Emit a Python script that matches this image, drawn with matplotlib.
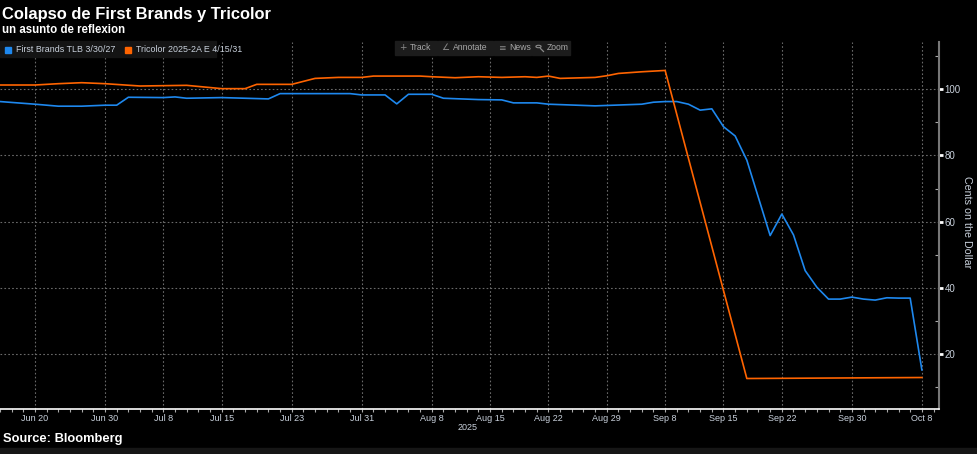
import numpy as np
import matplotlib
matplotlib.use("Agg")
import matplotlib.pyplot as plt
from matplotlib.patches import Rectangle, Circle
from matplotlib.lines import Line2D

# Bloomberg-style price chart: First Brands TLB vs Tricolor ABS

# trading-day axis (weekends + US holidays removed)
holidays = ['2025-06-19', '2025-07-04', '2025-09-01']
origin = '2025-06-20'

fb_dates = ['2025-06-16', '2025-06-20', '2025-06-24', '2025-06-26', '2025-06-30',
            '2025-07-01', '2025-07-02', '2025-07-08', '2025-07-09', '2025-07-10',
            '2025-07-15', '2025-07-17', '2025-07-21', '2025-07-22', '2025-07-30',
            '2025-07-31', '2025-08-04', '2025-08-05', '2025-08-06', '2025-08-08',
            '2025-08-11', '2025-08-14', '2025-08-18', '2025-08-19', '2025-08-21',
            '2025-08-22', '2025-08-28', '2025-09-04', '2025-09-05', '2025-09-08',
            '2025-09-09', '2025-09-10', '2025-09-11', '2025-09-12', '2025-09-15',
            '2025-09-16', '2025-09-17', '2025-09-19', '2025-09-22', '2025-09-23',
            '2025-09-24', '2025-09-25', '2025-09-26', '2025-09-29', '2025-09-30',
            '2025-10-01', '2025-10-02', '2025-10-03', '2025-10-06', '2025-10-07',
            '2025-10-08']
fb_prices = [96.3, 95.5, 94.9, 94.9, 95.2,
             95.2, 97.6, 97.5, 97.7, 97.3,
             97.5, 97.3, 97.1, 98.7, 98.7,
             98.3, 98.3, 95.6, 98.5, 98.5,
             97.3, 96.9, 96.8, 95.9, 95.9,
             95.5, 95.0, 95.5, 96.1, 96.3,
             96.3, 95.5, 93.7, 94.1, 88.7,
             85.9, 78.6, 55.8, 62.3, 56.0,
             45.2, 40.2, 36.6, 36.6, 37.2,
             36.6, 36.3, 37.0, 36.9, 36.9,
             15.2]

tc_dates = ['2025-06-16', '2025-06-20', '2025-06-24', '2025-06-26', '2025-06-30',
            '2025-07-03', '2025-07-10', '2025-07-15', '2025-07-17', '2025-07-18',
            '2025-07-23', '2025-07-25', '2025-07-29', '2025-07-31', '2025-08-01',
            '2025-08-07', '2025-08-08', '2025-08-12', '2025-08-14', '2025-08-18',
            '2025-08-20', '2025-08-21', '2025-08-22', '2025-08-25', '2025-08-28',
            '2025-08-29', '2025-09-02', '2025-09-04', '2025-09-08', '2025-09-17',
            '2025-10-08']
tc_prices = [101.3, 101.3, 101.7, 102.0, 101.7,
             101.0, 101.2, 100.2, 100.2, 101.5,
             101.5, 103.3, 103.6, 103.6, 104.0,
             104.0, 103.8, 103.5, 103.8, 103.6,
             103.8, 103.6, 104.0, 103.3, 103.6,
             104.1, 104.8, 105.3, 105.7, 12.6,
             12.9]

tick_dates = ['2025-06-20', '2025-06-30', '2025-07-08', '2025-07-15', '2025-07-23',
              '2025-07-31', '2025-08-08', '2025-08-15', '2025-08-22', '2025-08-29',
              '2025-09-08', '2025-09-15', '2025-09-22', '2025-09-30', '2025-10-08']
tick_labels = ['Jun 20', 'Jun 30', 'Jul 8', 'Jul 15', 'Jul 23', 'Jul 31', 'Aug 8',
               'Aug 15', 'Aug 22', 'Aug 29', 'Sep 8', 'Sep 15', 'Sep 22', 'Sep 30', 'Oct 8']


def bday(d):
    return np.busday_count(origin, d, holidays=holidays)


BLUE = '#1e88ee'
ORANGE = '#ff6400'
TXT = '#c9d1dc'
plt.rcParams['font.family'] = ['Liberation Sans', 'DejaVu Sans']

fig = plt.figure(figsize=(9.77, 4.54), dpi=100, facecolor='black')
ax = fig.add_axes([0.0, 0.0985, 0.961, 0.809], facecolor='black')

ax.plot(bday(fb_dates), fb_prices, color=BLUE, lw=1.2, zorder=3)
ax.plot(bday(tc_dates), tc_prices, color=ORANGE, lw=1.2, zorder=3)

ax.set_xlim(-3.0, 77.46)
ax.set_ylim(3.3, 114.3)

# axes styling
for s in ['top', 'left']:
    ax.spines[s].set_visible(False)
ax.spines['bottom'].set_color('white')
ax.spines['bottom'].set_linewidth(1.2)
ax.spines['right'].set_color('#777777')
ax.spines['right'].set_linewidth(1.5)

ax.set_xticks(bday(tick_dates))
ax.set_xticklabels(tick_labels)
ax.set_xticks(np.arange(-3, 78), minor=True)
ax.tick_params(axis='x', which='both', colors='#aaaaaa', labelcolor=TXT,
               labelsize=6.5, length=2, width=0.8, pad=1.5)

ax.yaxis.tick_right()
ax.set_yticks([20, 40, 60, 80, 100])
ax.set_yticks([10, 30, 50, 70, 90, 110], minor=True)
ax.tick_params(axis='y', which='major', colors='white', labelcolor=TXT,
               labelsize=7, length=3, width=2, pad=1)
ax.tick_params(axis='y', which='minor', colors='#aaaaaa', length=3,
               width=0.8, direction='in')
ax.yaxis.set_label_position('right')
ax.set_ylabel('Cents on the Dollar', color=TXT, fontsize=7.7, rotation=-90,
              va='center')
ax.yaxis.set_label_coords(967 / 939, (454 - 222 - 44.7) / 367.3)

ax.grid(True, which='major', color='#6a6a6a', linestyle=(0, (1.5, 2)), lw=0.8)

# year under the date labels
fig.text(468 / 977, 1 - 428 / 454, '2025', color=TXT, fontsize=6.5,
         ha='center', va='center')

# title / subtitle / source
fig.text(2 / 977, 1 - 14 / 454, 'Colapso de First Brands y Tricolor', color='white',
         fontsize=11.9, fontweight='bold', va='center', ha='left')
fig.text(2 / 977, 1 - 30 / 454, 'un asunto de reflexion', color='white',
         fontsize=8.3, fontweight='bold', va='center', ha='left')
fig.text(3 / 977, 1 - 439 / 454, 'Source: Bloomberg', color='white',
         fontsize=9.3, fontweight='bold', va='center', ha='left')

# legend strip
fig.patches.append(Rectangle((0, 1 - 57 / 454), 216 / 977, 16 / 454,
                             transform=fig.transFigure, color='#141414', zorder=5))
for x0, col, lab in [(5, BLUE, 'First Brands TLB 3/30/27'),
                     (125, ORANGE, 'Tricolor 2025-2A E 4/15/31')]:
    fig.patches.append(Rectangle((x0 / 977, 1 - 52.5 / 454), 6 / 977, 6 / 454,
                                 transform=fig.transFigure, color=col, zorder=6))
    fig.text((x0 + 11) / 977, 1 - 49 / 454, lab, color=TXT, fontsize=6.4,
             va='center', ha='left', zorder=7)

# toolbar
for x0, w, icon, lab in [(395, 42, '+', 'Track'), (438, 55, '∠', 'Annotate'),
                         (494, 37, '≡', 'News'), (532, 38, '', 'Zoom')]:
    fig.patches.append(Rectangle((x0 / 977, 1 - 55 / 454), w / 977, 14 / 454,
                                 transform=fig.transFigure, color='#1c1c1c', zorder=5))
    if icon:
        fig.text((x0 + 7.5) / 977, 1 - 48 / 454, icon, color='#8a8a8a', fontsize=6.5,
                 family='DejaVu Sans', va='center', ha='center', zorder=7)
    fig.text((x0 + 15) / 977, 1 - 48 / 454, lab, color='#a8a8a8', fontsize=6.2,
             va='center', ha='left', zorder=7)
# magnifier icon for Zoom button
fig.patches.append(Circle((538.5 / 977, 1 - 46.5 / 454), 2.6 / 977,
                          transform=fig.transFigure, fill=False, ec='#8a8a8a',
                          lw=0.8, zorder=7))
fig.lines.append(Line2D([540.5 / 977, 543.5 / 977], [1 - 48.5 / 454, 1 - 51.5 / 454],
                        transform=fig.transFigure, color='#8a8a8a', lw=0.9, zorder=7))

# bottom strip
fig.patches.append(Rectangle((0, 0), 1, 6 / 454, transform=fig.transFigure,
                             color='#161616', zorder=5))

fig.savefig('out.png', dpi=100, facecolor='black')
